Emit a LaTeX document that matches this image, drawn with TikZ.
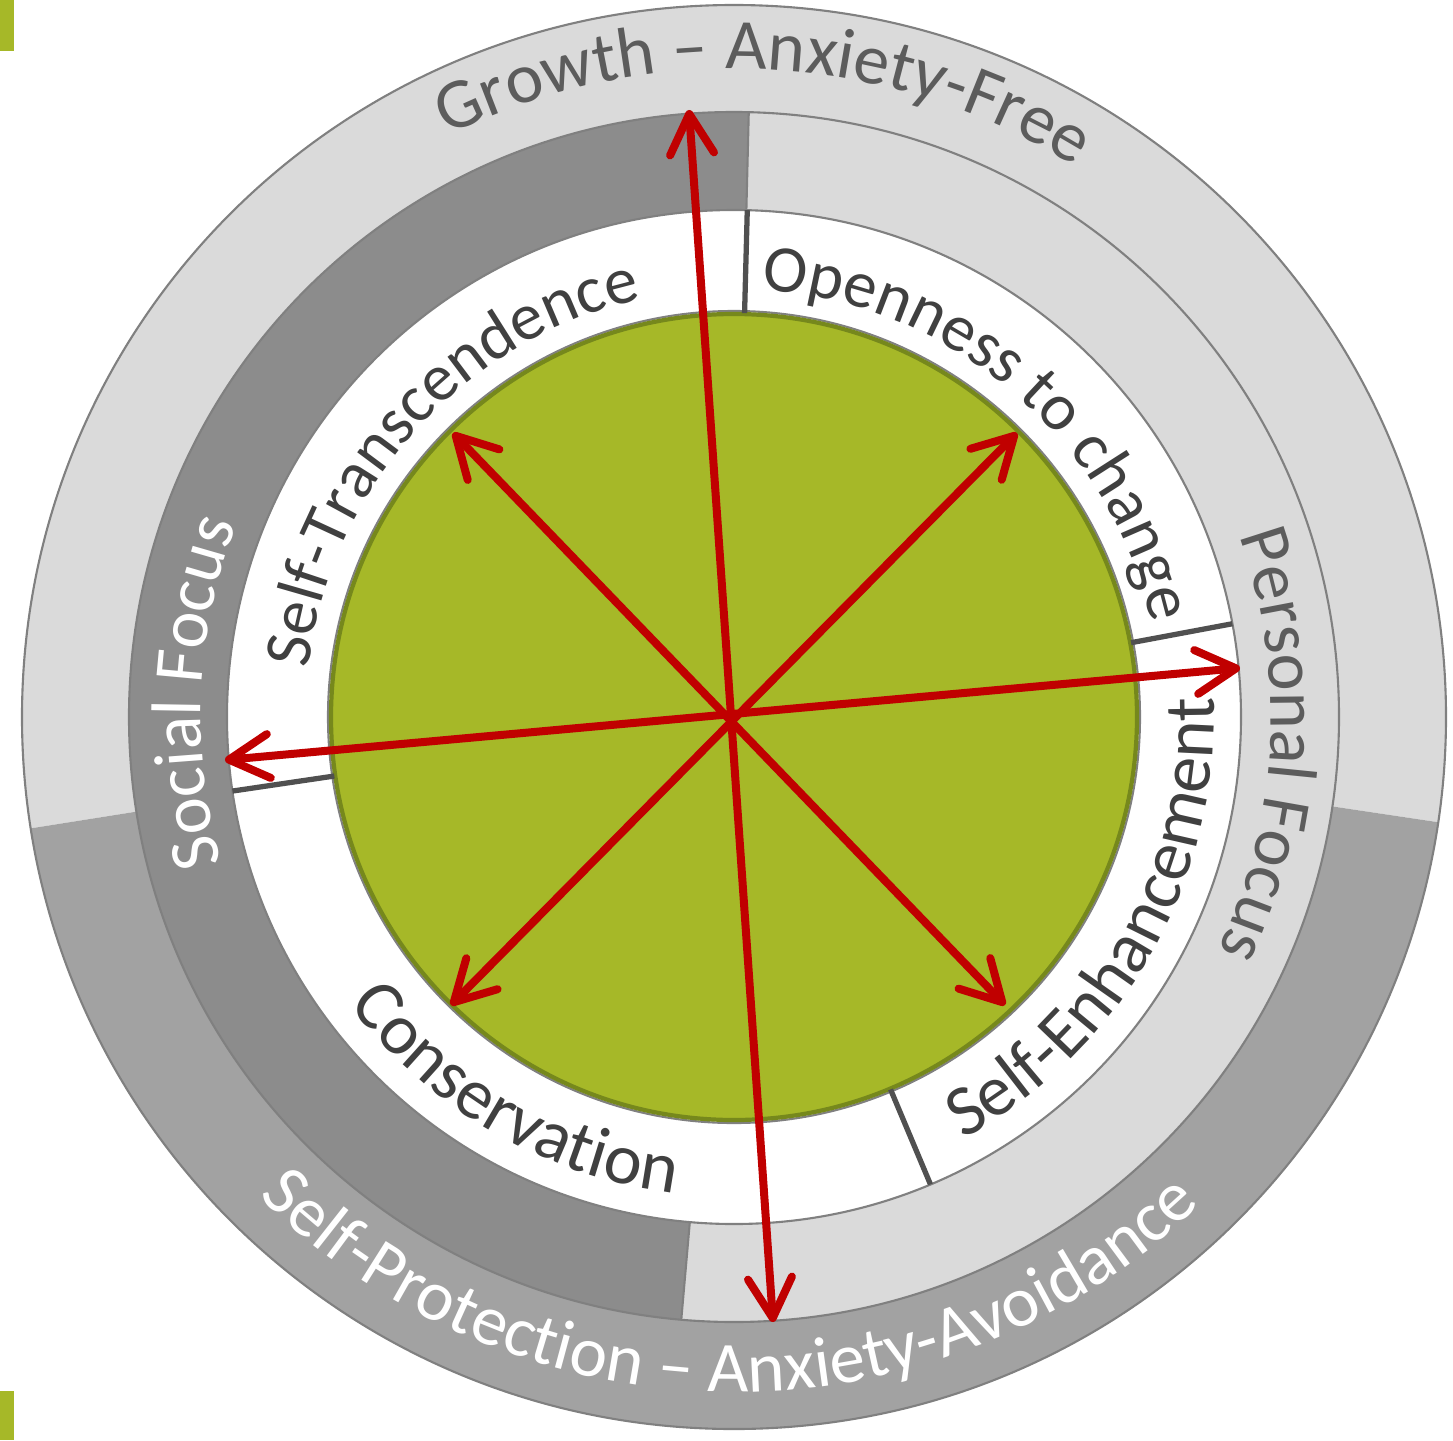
\documentclass[tikz,border=0pt]{standalone}
\usepackage{fontspec}
\setmainfont{Carlito}
\usetikzlibrary{arrows.meta,decorations.text}
\definecolor{ringLight}{HTML}{DADADA}
\definecolor{ringDark}{HTML}{8C8C8C}
\definecolor{ringLow}{HTML}{A2A2A2}
\definecolor{ringEdge}{HTML}{808080}
\definecolor{valueGreen}{HTML}{A6B828}
\definecolor{greenEdge}{HTML}{76881C}
\definecolor{arrowRed}{HTML}{C00000}
\definecolor{labelDark}{HTML}{404040}
\definecolor{labelGray}{HTML}{5C5C5C}
\definecolor{sepGray}{HTML}{505050}
\newcommand{\ringfont}{\fontsize{20.3}{24}\selectfont}
\newcommand{\focusfont}{\fontsize{20}{24}\selectfont}
\newcommand{\valuefont}{\fontsize{20.5}{24}\selectfont}
\newcommand{\valuesmallfont}{\fontsize{19}{23}\selectfont}

\begin{document}
\begin{tikzpicture}[thick,
  >={Straight Barb[length=0.4cm,width=0.44cm,round]},
  redArrow/.style={draw=arrowRed, line width=0.08cm, line cap=round, <->},
  edgeLine/.style={draw=ringEdge, line width=0.6pt},
  sepLine/.style={draw=sepGray, line width=1.5pt},
  curvedText/.style={decorate, decoration={text along path, text align=center, text color=#1}}
]
% \draw[help lines, step=1cm] (-7,-7) grid (7,7);
\useasboundingbox (-7.34,-7.23) rectangle (7.19,7.17);
\fill[white] (-7.34,-7.23) rectangle (7.19,7.17);

%%%%%%%%%%%%%%%%%%%%%%%%%%%%%%% corner marks
\fill[valueGreen] (-7.34,6.66) rectangle (-7.20,7.17);
\fill[valueGreen] (-7.34,-7.23) rectangle (-7.20,-6.74);

%%%%%%%%%%%%%%%%%%%%%%%%%%%%%%% outer ring
\fill[ringLight] (-8.5:7.12) arc[start angle=-8.5, end angle=189, radius=7.12] -- (189:6.05) arc[start angle=189, end angle=-8.5, radius=6.05] -- cycle;
\fill[ringLow] (189:7.12) arc[start angle=189, end angle=351.5, radius=7.12] -- (351.5:6.05) arc[start angle=351.5, end angle=189, radius=6.05] -- cycle;

%%%%%%%%%%%%%%%%%%%%%%%%%%%%%%% middle ring
\fill[ringDark] (88.6:6.05) arc[start angle=88.6, end angle=265, radius=6.05] -- (265:5.07) arc[start angle=265, end angle=88.6, radius=5.07] -- cycle;
\fill[ringLight] (265:6.05) arc[start angle=265, end angle=448.6, radius=6.05] -- (88.6:5.07) arc[start angle=448.6, end angle=265, radius=5.07] -- cycle;
\draw[edgeLine] (88.6:5.07) -- (88.6:6.05);
\draw[edgeLine] (265:5.07) -- (265:6.05);

%%%%%%%%%%%%%%%%%%%%%%%%%%%%%%% inner ring and core
\fill[white] (0,0) circle[radius=5.07];
\draw[edgeLine] (0,0) circle[radius=7.12];
\draw[edgeLine] (0,0) circle[radius=6.05];
\draw[edgeLine] (0,0) circle[radius=5.07];
\draw[edgeLine] (0,0) circle[radius=4.06];
\draw[fill=valueGreen, draw=greenEdge, line width=1.2pt] (0,0) circle[radius=4.03];

\draw[sepLine] (88.5:4.04) -- (88.5:5.07);
\draw[sepLine] (10.6:4.04) -- (10.6:5.07);
\draw[sepLine] (188.4:4.04) -- (188.4:5.07);
\draw[sepLine] (292.8:4.04) -- (292.8:5.07);

%%%%%%%%%%%%%%%%%%%%%%%%%%%%%%% curved labels
\path[curvedText=labelGray, decoration={text={|\ringfont|Growth – Anxiety-Free}}]
  (137.2:6.48) arc[start angle=137.2, end angle=37.2, radius=6.48];
\path[curvedText=white, decoration={text={|\ringfont|Self-Protection – Anxiety-Avoidance}}]
  (204.5:6.75) arc[start angle=204.5, end angle=334.5, radius=6.75];
\path[curvedText=white, decoration={text={|\focusfont|Social Focus}}]
  (217.4:5.33) arc[start angle=217.4, end angle=137.4, radius=5.33];
\path[curvedText=labelGray, decoration={text={|\focusfont|Personal Focus}}]
  (37:5.37) arc[start angle=37, end angle=-43, radius=5.37];

\path[curvedText=labelDark, decoration={text={|\valuesmallfont|Self-Transcendence}}]
  (183:4.28) arc[start angle=183, end angle=93, radius=4.28];
\path[curvedText=labelDark, decoration={text={|\valuesmallfont|Openness to change}}]
  (94.5:4.28) arc[start angle=94.5, end angle=4.5, radius=4.28];
\path[curvedText=labelDark, decoration={text={|\valuefont|Self-Enhancement}}]
  (-69.6:4.80) arc[start angle=-69.6, end angle=10.4, radius=4.80];
\path[curvedText=labelDark, decoration={text={|\valuefont|Conservation}}]
  (204.8:4.80) arc[start angle=204.8, end angle=274.8, radius=4.80];

%%%%%%%%%%%%%%%%%%%%%%%%%%%%%%% arrows
\coordinate (tipN) at (-0.45,6.07);
\coordinate (tipS) at (0.39,-6.05);
\coordinate (tipW) at (-5.09,-0.43);
\coordinate (tipE) at (5.06,0.49);
\coordinate (tipNW) at (-2.81,2.84);
\coordinate (tipSE) at (2.71,-2.88);
\coordinate (tipNE) at (2.83,2.84);
\coordinate (tipSW) at (-2.83,-2.88);

\draw[redArrow] (tipS) -- (tipN);
\draw[redArrow] (tipW) -- (tipE);
\draw[redArrow] (tipSE) -- (tipNW);
\draw[redArrow] (tipSW) -- (tipNE);

\end{tikzpicture}
\end{document}
